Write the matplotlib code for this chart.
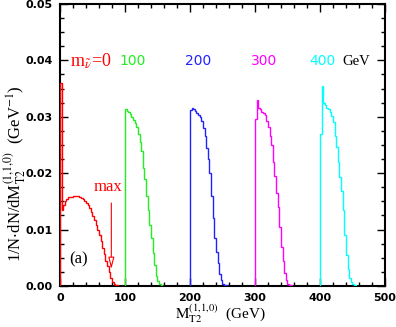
import numpy as np
import matplotlib
matplotlib.use("Agg")
import matplotlib.pyplot as plt
from matplotlib.ticker import MultipleLocator

plt.rcParams['mathtext.fontset'] = 'stix'

# histogram bin width (GeV)
bin_w = 2.5

# m_nu = 0
start_0 = 0.0
vals_0 = [0.0360, 0.0134, 0.0143, 0.0150, 0.0155, 0.0157, 0.0158, 0.0158,
          0.0159, 0.0160, 0.0160, 0.0159, 0.0158, 0.0156, 0.0154, 0.0151,
          0.0148, 0.0144, 0.0138, 0.0131, 0.0124, 0.0117, 0.0109, 0.0100,
          0.0090, 0.0079, 0.0068, 0.0056, 0.0045, 0.0035, 0.0024, 0.0014,
          0.0007, 0.0003, 0.0002, 0.0001, 0.00005]
# m_nu = 100
start_100 = 100.0
vals_100 = [0.0313, 0.0311, 0.0308, 0.0305, 0.0300, 0.0295, 0.0289, 0.0282,
            0.0270, 0.0255, 0.0240, 0.0210, 0.0190, 0.0160, 0.0135, 0.0108,
            0.0085, 0.0058, 0.0038, 0.0018, 0.0008, 0.0003, 0.0001, 0.00005]
# m_nu = 200
start_200 = 200.0
vals_200 = [0.0312, 0.0315, 0.0313, 0.0310, 0.0307, 0.0303, 0.0300, 0.0293,
            0.0280, 0.0265, 0.0245, 0.0225, 0.0200, 0.0160, 0.0120, 0.0085,
            0.0060, 0.0040, 0.0022, 0.0010, 0.0004, 0.0002, 0.0001]
# m_nu = 300
start_300 = 300.0
vals_300 = [0.0296, 0.0329, 0.0316, 0.0313, 0.0309, 0.0306, 0.0303, 0.0292,
            0.0281, 0.0265, 0.0250, 0.0220, 0.0195, 0.0165, 0.0140, 0.0105,
            0.0070, 0.0045, 0.0023, 0.0010, 0.0004, 0.0002, 0.0001]
# m_nu = 400
start_400 = 400.0
vals_400 = [0.0269, 0.0355, 0.0325, 0.0320, 0.0316, 0.0313, 0.0309, 0.0302,
            0.0290, 0.0265, 0.0246, 0.0220, 0.0193, 0.0169, 0.0135, 0.0090,
            0.0055, 0.0030, 0.0015, 0.0007, 0.0003, 0.0001]

series = [
    (start_0, vals_0, '#ff0000'),
    (start_100, vals_100, '#22ee22'),
    (start_200, vals_200, '#2222ff'),
    (start_300, vals_300, '#ff00ff'),
    (start_400, vals_400, '#00ffff'),
]

fig = plt.figure(figsize=(3.96, 3.27), dpi=100)
ax = fig.add_axes([0.1515, 0.1254, 0.8205, 0.8626])

for start, vals, col in series:
    edges = start + bin_w * np.arange(len(vals) + 1)
    ax.stairs(vals, edges, color=col, lw=1.0, baseline=0, zorder=3)

ax.set_xlim(0, 500)
ax.set_ylim(0, 0.05)
ax.xaxis.set_major_locator(MultipleLocator(100))
ax.xaxis.set_minor_locator(MultipleLocator(20))
ax.yaxis.set_major_locator(MultipleLocator(0.01))
ax.yaxis.set_minor_locator(MultipleLocator(0.0025))
ax.tick_params(which='both', direction='in', top=True, right=True, width=1.0)
ax.tick_params(which='major', length=6, labelsize=8, pad=5)
ax.tick_params(which='minor', length=3)
ax.yaxis.set_major_formatter(matplotlib.ticker.FormatStrFormatter('%.2f'))
for lab in ax.get_xticklabels() + ax.get_yticklabels():
    lab.set_fontfamily('DejaVu Sans')
    lab.set_fontweight('bold')
for s in ax.spines.values():
    s.set_linewidth(1.5)

ax.set_xlabel(r'$\mathrm{M_{T2}^{(1{,}1{,}0)}}$  (GeV)', family='Liberation Serif',
              fontsize=11)
ax.xaxis.set_label_coords(0.495, -0.058)
ax.set_ylabel(r'1/N$\cdot$dN/dM$_{\mathrm{T2}}^{(1{,}1{,}0)}$  (GeV$^{-1}$)',
              family='Liberation Serif', fontsize=12)
ax.yaxis.set_label_coords(-0.10, 0.40)

ty = 0.0398
ax.text(15.5, ty, r'm$_{\tilde{\nu}}$=0', color='#ff0000', family='Liberation Serif',
        fontsize=13, va='center', ha='left')
ax.text(112, ty, '100', color='#22ee22', family='DejaVu Sans', fontsize=10,
        va='center', ha='center')
ax.text(213, ty, '200', color='#2222ff', family='DejaVu Sans', fontsize=10,
        va='center', ha='center')
ax.text(314, ty, '300', color='#ff00ff', family='DejaVu Sans', fontsize=10,
        va='center', ha='center')
ax.text(404, ty, '400', color='#00ffff', family='DejaVu Sans', fontsize=10,
        va='center', ha='center')
ax.text(456, ty, 'GeV', color='black', family='Liberation Serif', fontsize=10.5,
        va='center', ha='center')

ax.text(74, 0.0175, 'max', color='#ff0000', family='Liberation Serif',
        fontsize=12, va='center', ha='center')
ax.annotate('', xy=(79, 0.0025), xytext=(79, 0.0152),
            arrowprops=dict(arrowstyle='-|>,head_length=0.7,head_width=0.18',
                            edgecolor='#ff0000', facecolor='white', lw=0.8))
ax.text(29, 0.0048, '(a)', color='black', family='Liberation Serif',
        fontsize=12, va='center', ha='center')

fig.savefig('out.png', dpi=100)
